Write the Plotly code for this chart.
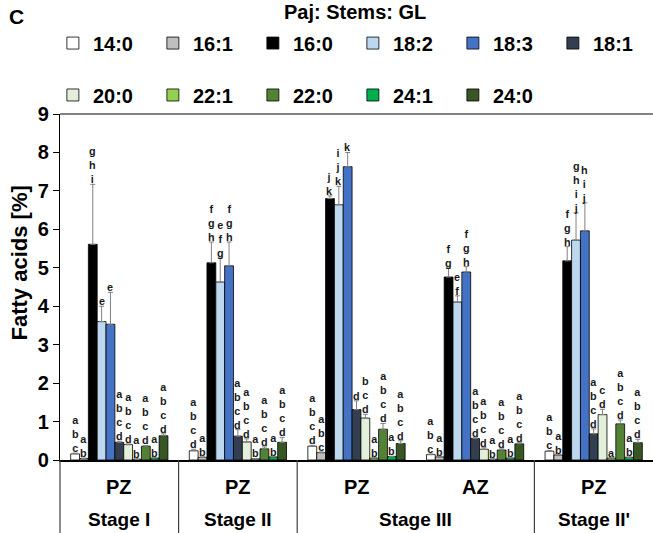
import plotly.graph_objects as go

groups = ["PZ<br>Stage I", "PZ<br>Stage II", "PZ<br>Stage III", "AZ<br>Stage III", "PZ<br>Stage II'"]
zones = ["PZ", "PZ", "PZ", "AZ", "PZ"]
stages = ["Stage I", "Stage II", "Stage III", "Stage II'"]
stage_pos = [0, 1, 2.5, 4]

acids = ["14:0", "16:1", "16:0", "18:2", "18:3", "18:1", "20:0", "22:1", "22:0", "24:1", "24:0"]
colors = ["#ffffff", "#bfbfbf", "#000000", "#bdd7ee", "#4472c4", "#333f50",
          "#e2efda", "#92d050", "#548235", "#00b050", "#375623"]

v_14_0 = [0.16, 0.24, 0.36, 0.14, 0.23]
v_16_1 = [0.04, 0.07, 0.19, 0.08, 0.13]
v_16_0 = [5.61, 5.13, 6.80, 4.76, 5.18]
v_18_2 = [3.60, 4.63, 6.64, 4.11, 5.72]
v_18_3 = [3.53, 5.05, 7.63, 4.89, 5.96]
v_18_1 = [0.46, 0.62, 1.31, 0.56, 0.68]
v_20_0 = [0.40, 0.47, 1.09, 0.28, 1.18]
v_22_1 = [0.02, 0.03, 0.05, 0.02, 0.05]
v_22_0 = [0.36, 0.29, 0.80, 0.26, 0.94]
v_24_1 = [0.05, 0.08, 0.09, 0.05, 0.07]
v_24_0 = [0.63, 0.46, 0.43, 0.42, 0.45]
values = [v_14_0, v_16_1, v_16_0, v_18_2, v_18_3, v_18_1, v_20_0, v_22_1, v_22_0, v_24_1, v_24_0]

e_14_0 = [0.02, 0.04, 0.02, 0.02, 0.02]
e_16_1 = [0.01, 0.01, 0.02, 0.01, 0.01]
e_16_0 = [1.56, 0.54, 0.07, 0.23, 0.37]
e_18_2 = [0.40, 0.62, 0.48, 0.16, 0.71]
e_18_3 = [0.83, 0.62, 0.37, 0.14, 0.73]
e_18_1 = [0.03, 0.17, 0.23, 0.02, 0.13]
e_20_0 = [0.02, 0.08, 0.10, 0.04, 0.14]
e_22_1 = [0.01, 0.01, 0.01, 0.01, 0.01]
e_22_0 = [0.02, 0.05, 0.15, 0.03, 0.10]
e_24_1 = [0.01, 0.01, 0.01, 0.01, 0.01]
e_24_0 = [0.05, 0.13, 0.07, 0.03, 0.09]
errors = [e_14_0, e_16_1, e_16_0, e_18_2, e_18_3, e_18_1, e_20_0, e_22_1, e_22_0, e_24_1, e_24_0]

l_14_0 = ["abc", "abcd", "abcd", "abc", "abc"]
l_16_1 = ["ab", "ab", "abc", "ab", "ab"]
l_16_0 = ["ghi", "fgh", "jk", "fg", "fgh"]
l_18_2 = ["e", "efg", "ijk", "ef", "ghij"]
l_18_3 = ["e", "fgh", "k", "fgh", "hij"]
l_18_1 = ["abcd", "abcd", "d", "abcd", "abcd"]
l_20_0 = ["abcd", "abcd", "bcd", "abcd", "cd"]
l_22_1 = ["ab", "ab", "ab", "ab", "a"]
l_22_0 = ["abcd", "abcd", "abcd", "abcd", "abcd"]
l_24_1 = ["ab", "ab", "ab", "ab", "ab"]
l_24_0 = ["abcd", "abcd", "abcd", "abcd", "abcd"]
letters = [l_14_0, l_16_1, l_16_0, l_18_2, l_18_3, l_18_1, l_20_0, l_22_1, l_22_0, l_24_1, l_24_0]

BARGAP = 0.18
FONT = "Arial, Liberation Sans, sans-serif"
xs = list(range(len(groups)))

fig = go.Figure()
n = len(acids)
for k in range(n):
    fig.add_trace(go.Bar(
        x=xs, y=values[k], name=acids[k],
        marker=dict(color=colors[k], line=dict(color="#000000", width=0.8)),
        error_y=dict(type="data", symmetric=False, array=errors[k],
                     arrayminus=[0] * len(xs), color="#808080", thickness=1, width=2.5),
        legend="legend" if k < 6 else "legend2",
    ))

# significance letters above each bar
w = (1 - BARGAP) / n
annotations = []
for k in range(n):
    for i in xs:
        xc = i - 0.5 + BARGAP / 2 + (k + 0.5) * w
        annotations.append(dict(
            x=xc, y=values[k][i] + errors[k][i], xref="x", yref="y",
            text="<br>".join(list(letters[k][i])), showarrow=False,
            yanchor="bottom", xanchor="center", yshift=-3,
            font=dict(family=FONT, size=10.8, color="#1a1a1a", weight="bold"),
        ))

for i in xs:
    annotations.append(dict(x=i, y=-0.078, xref="x", yref="paper", text="<b>%s</b>" % zones[i],
                            showarrow=False, yanchor="middle",
                            font=dict(family=FONT, size=20, color="black")))
for s, p in zip(stages, stage_pos):
    annotations.append(dict(x=p, y=-0.173, xref="x", yref="paper", text="<b>%s</b>" % s,
                            showarrow=False, yanchor="middle",
                            font=dict(family=FONT, size=19, color="black")))

annotations.append(dict(x=0.497, y=1.295, xref="paper", yref="paper", text="<b>Paj: Stems: GL</b>",
                        showarrow=False, xanchor="center", yanchor="middle",
                        font=dict(family=FONT, size=20, color="black")))
annotations.append(dict(x=-0.074, y=1.283, xref="paper", yref="paper", text="<b>C</b>",
                        showarrow=False, xanchor="center", yanchor="middle",
                        font=dict(family=FONT, size=21, color="black")))
annotations.append(dict(x=-0.068, y=0.57, xref="paper", yref="paper", text="<b>Fatty acids [%]</b>",
                        showarrow=False, xanchor="center", yanchor="middle", textangle=-90,
                        font=dict(family=FONT, size=22, color="black")))

shapes = []
for xp in [0.0, 0.2, 0.4, 0.8]:
    shapes.append(dict(type="line", xref="paper", yref="paper", x0=xp, x1=xp, y0=0, y1=-0.25,
                       line=dict(color="#404040", width=1.2)))
shapes.append(dict(type="line", xref="paper", yref="paper", x0=0, x1=1, y0=1, y1=1,
                   line=dict(color="#595959", width=1.5)))

legend_common = dict(orientation="h", xanchor="left", yanchor="middle", entrywidth=55,
                     entrywidthmode="pixels", bgcolor="rgba(0,0,0,0)", itemclick=False,
                     font=dict(family=FONT, size=20, color="black", weight="bold"))

fig.update_layout(
    width=653, height=533,
    margin=dict(l=60, r=0, t=114, b=73, autoexpand=False),
    plot_bgcolor="white", paper_bgcolor="white",
    barmode="group", bargap=BARGAP, bargroupgap=0,
    showlegend=True,
    legend=dict(x=-0.012, y=1.205, **legend_common),
    legend2=dict(x=-0.012, y=1.055, **legend_common),
    xaxis=dict(range=[-0.5, 4.5], showticklabels=False, ticks="", showline=True,
               linecolor="black", linewidth=1.5, showgrid=False, zeroline=False, fixedrange=True),
    yaxis=dict(range=[0, 9], dtick=1, showline=True, linecolor="black", linewidth=1.2,
               ticks="outside", ticklen=6, tickcolor="black", showgrid=False, zeroline=False,
               tickfont=dict(family=FONT, size=20, color="black", weight="bold")),
    annotations=annotations, shapes=shapes,
)

fig.write_html("out.html", config={"displayModeBar": False},
               post_script="document.body.style.margin='0';document.body.style.padding='0';")
